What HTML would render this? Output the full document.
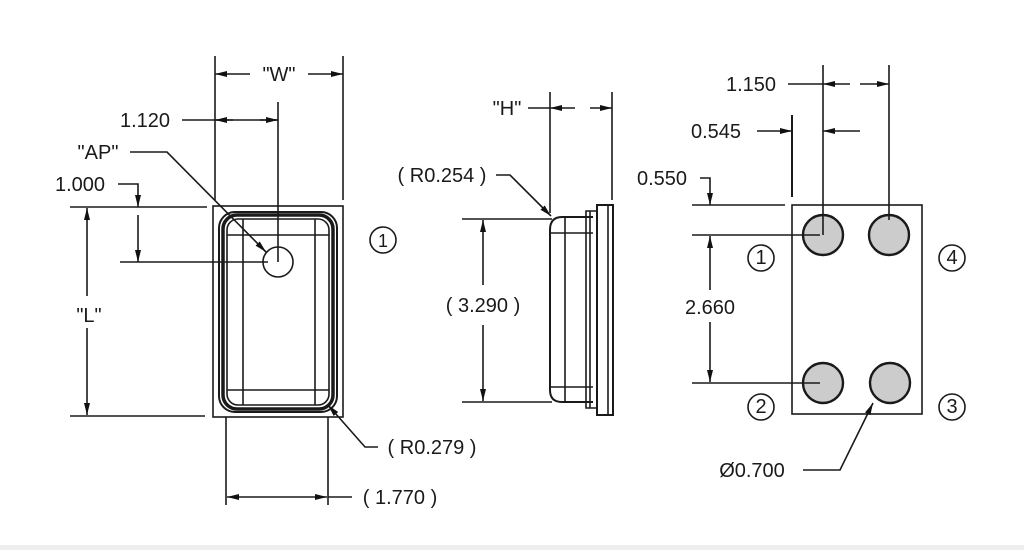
<!DOCTYPE html>
<html><head><meta charset="utf-8"><style>
html,body{margin:0;padding:0;background:#fff;}
svg{display:block}
text{font-family:"Liberation Sans",sans-serif;font-size:20px;fill:#1a1a1a;}
</style></head><body>
<svg width="1024" height="550" viewBox="0 0 1024 550" xmlns="http://www.w3.org/2000/svg">
<defs>
<marker id="a" viewBox="0 0 12 6" refX="12" refY="3" markerWidth="12" markerHeight="6" orient="auto-start-reverse" markerUnits="userSpaceOnUse"><path d="M0,0L12,3L0,6z" fill="#111"/></marker>
</defs>
<rect x="0" y="545" width="1024" height="5" fill="#eee"/>
<g stroke="#1a1a1a" stroke-width="1.6" fill="none">
<!-- LEFT VIEW -->
<rect x="213" y="206" width="130" height="211"/>
<rect x="219" y="212" width="118" height="200" rx="16" stroke-width="2"/>
<rect x="223" y="215" width="110" height="194" rx="14" stroke-width="3.5"/>
<rect x="227" y="219" width="102" height="186" rx="11"/>
<line x1="243" y1="219" x2="243" y2="405"/>
<line x1="315" y1="219" x2="315" y2="405"/>
<line x1="227" y1="235" x2="329" y2="235"/>
<line x1="227" y1="390" x2="329" y2="390"/>
<circle cx="278" cy="262" r="15"/>
<!-- W -->
<line x1="215" y1="56" x2="215" y2="200"/>
<line x1="343" y1="56" x2="343" y2="200"/>
<line x1="215" y1="74" x2="250" y2="74" marker-start="url(#a)"/>
<line x1="308" y1="74" x2="343" y2="74" marker-end="url(#a)"/>
<!-- 1.120 -->
<line x1="278" y1="102" x2="278" y2="262"/>
<line x1="182" y1="120" x2="278" y2="120"/>
<path d="M215,120 L233,120" marker-start="url(#a)"/>
<path d="M260,120 L278,120" marker-end="url(#a)"/>
<!-- AP -->
<path d="M130,152 L167,152 L266,252" marker-end="url(#a)"/>
<!-- 1.000 -->
<path d="M118,184 L138,184 L138,207" marker-end="url(#a)"/>
<path d="M138,215 L138,262" marker-end="url(#a)"/>
<line x1="70" y1="207" x2="207" y2="207"/>
<line x1="120" y1="262" x2="268" y2="262"/>
<line x1="70" y1="416" x2="205" y2="416"/>
<!-- L -->
<line x1="87" y1="296" x2="87" y2="208" marker-end="url(#a)"/>
<line x1="87" y1="328" x2="87" y2="415" marker-end="url(#a)"/>
<!-- 1.770 -->
<line x1="226" y1="417" x2="226" y2="505"/>
<line x1="328" y1="417" x2="328" y2="505"/>
<line x1="277" y1="497" x2="227" y2="497" marker-end="url(#a)"/>
<line x1="277" y1="497" x2="327" y2="497" marker-end="url(#a)"/>
<line x1="328" y1="497" x2="352" y2="497"/>
<!-- R0.279 -->
<path d="M378,447 L365,447 L328,405" marker-end="url(#a)"/>
<circle cx="383" cy="240" r="13"/>
<!-- MIDDLE VIEW -->
<rect x="597" y="205" width="16" height="210" stroke-width="2"/>
<line x1="608" y1="205" x2="608" y2="415"/>
<path d="M593,217 L562,217 Q550,217 550,230 L550,390 Q550,402 562,402 L593,402" stroke-width="2"/>
<line x1="565" y1="217" x2="565" y2="402"/>
<path d="M586,211 L597,211 L597,408 L586,408 Z"/>
<line x1="590" y1="211" x2="590" y2="408"/>
<line x1="550" y1="233" x2="593" y2="233"/>
<line x1="550" y1="387" x2="593" y2="387"/>
<line x1="550" y1="92" x2="550" y2="213"/>
<line x1="612" y1="92" x2="612" y2="200"/>
<line x1="528" y1="108" x2="550" y2="108"/>
<line x1="550" y1="108" x2="575" y2="108" marker-start="url(#a)"/>
<line x1="590" y1="108" x2="612" y2="108" marker-end="url(#a)"/>
<path d="M496,175 L510,175 L551,216" marker-end="url(#a)"/>
<line x1="462" y1="219" x2="552" y2="219"/>
<line x1="462" y1="402" x2="552" y2="402"/>
<line x1="483" y1="285" x2="483" y2="220" marker-end="url(#a)"/>
<line x1="483" y1="325" x2="483" y2="401" marker-end="url(#a)"/>
<!-- RIGHT VIEW -->
<rect x="792" y="205" width="130" height="209"/>
<g fill="#ccc" stroke-width="2.4">
<circle cx="823" cy="235" r="20"/><circle cx="889" cy="235" r="20"/>
<circle cx="823" cy="383" r="20"/><circle cx="890" cy="383" r="20"/>
</g>
<line x1="823" y1="65" x2="823" y2="235"/>
<line x1="889" y1="65" x2="889" y2="220"/>
<line x1="788" y1="84" x2="823" y2="84"/>
<line x1="823" y1="84" x2="850" y2="84" marker-start="url(#a)"/>
<line x1="860" y1="84" x2="889" y2="84" marker-end="url(#a)"/>
<line x1="792" y1="115" x2="792" y2="197" stroke-width="2"/>
<line x1="757" y1="131" x2="792" y2="131" marker-end="url(#a)"/>
<line x1="860" y1="131" x2="823" y2="131" marker-end="url(#a)"/>
<path d="M700,178 L710,178 L710,205" marker-end="url(#a)"/>
<line x1="692" y1="205" x2="785" y2="205"/>
<line x1="692" y1="235" x2="820" y2="235"/>
<line x1="692" y1="383" x2="820" y2="383"/>
<line x1="710" y1="290" x2="710" y2="236" marker-end="url(#a)"/>
<line x1="710" y1="322" x2="710" y2="382" marker-end="url(#a)"/>
<path d="M803,470 L840,470 L873,403" marker-end="url(#a)"/>
<circle cx="761" cy="258" r="13"/><circle cx="952" cy="258" r="13"/>
<circle cx="761" cy="407" r="13"/><circle cx="952" cy="407" r="13"/>
</g>
<!-- TEXT -->
<text x="279" y="81" text-anchor="middle">"W"</text>
<text x="145" y="127" text-anchor="middle">1.120</text>
<text x="98" y="159" text-anchor="middle">"AP"</text>
<text x="80" y="191" text-anchor="middle">1.000</text>
<text x="89" y="322" text-anchor="middle">"L"</text>
<text x="400" y="504" text-anchor="middle">( 1.770 )</text>
<text x="432" y="454" text-anchor="middle">( R0.279 )</text>
<text x="383" y="247" text-anchor="middle" style="font-size:18px">1</text>
<text x="507" y="115" text-anchor="middle">"H"</text>
<text x="442" y="182" text-anchor="middle">( R0.254 )</text>
<text x="483" y="312" text-anchor="middle">( 3.290 )</text>
<text x="751" y="91" text-anchor="middle">1.150</text>
<text x="716" y="138" text-anchor="middle">0.545</text>
<text x="662" y="185" text-anchor="middle">0.550</text>
<text x="710" y="314" text-anchor="middle">2.660</text>
<text x="752" y="477" text-anchor="middle">Ø0.700</text>
<g style="font-size:18px" text-anchor="middle">
<text x="761" y="264">1</text><text x="952" y="264">4</text>
<text x="761" y="413">2</text><text x="952" y="413">3</text>
</g>
</svg>
</body></html>
